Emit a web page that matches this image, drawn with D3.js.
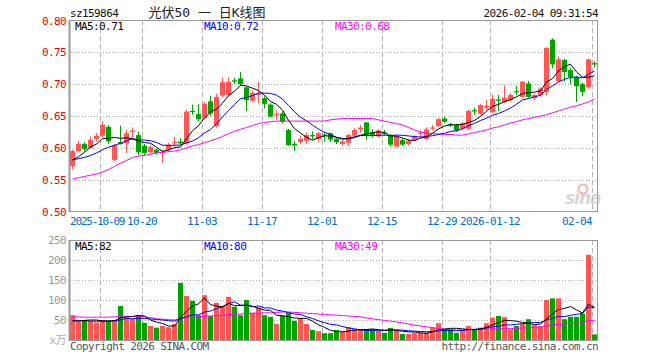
<!DOCTYPE html>
<html><head><meta charset="utf-8">
<script src="https://cdn.jsdelivr.net/npm/d3@7"></script>
<style>
html,body{margin:0;padding:0;background:#fff;}
svg{display:block;}
text{font-family:"DejaVu Sans Mono","Noto Sans CJK SC",monospace;font-size:11px;letter-spacing:-0.6px;}
</style></head>
<body>
<svg id="chart" width="660" height="360"></svg>
<script>
// ---------------- DATA ----------------
const dates = [
 "2025-09-24","2025-09-25","2025-09-26","2025-09-29","2025-09-30","2025-10-09","2025-10-10","2025-10-13","2025-10-14","2025-10-15",
 "2025-10-16","2025-10-17","2025-10-20","2025-10-21","2025-10-22","2025-10-23","2025-10-24","2025-10-27","2025-10-28","2025-10-29",
 "2025-10-30","2025-10-31","2025-11-03","2025-11-04","2025-11-05","2025-11-06","2025-11-07","2025-11-10","2025-11-11","2025-11-12",
 "2025-11-13","2025-11-14","2025-11-17","2025-11-18","2025-11-19","2025-11-20","2025-11-21","2025-11-24","2025-11-25","2025-11-26",
 "2025-11-27","2025-11-28","2025-12-01","2025-12-02","2025-12-03","2025-12-04","2025-12-05","2025-12-08","2025-12-09","2025-12-10",
 "2025-12-11","2025-12-12","2025-12-15","2025-12-16","2025-12-17","2025-12-18","2025-12-19","2025-12-22","2025-12-23","2025-12-24",
 "2025-12-25","2025-12-26","2025-12-29","2025-12-30","2025-12-31","2026-01-05","2026-01-06","2026-01-07","2026-01-08","2026-01-09",
 "2026-01-12","2026-01-13","2026-01-14","2026-01-15","2026-01-16","2026-01-19","2026-01-20","2026-01-21","2026-01-22","2026-01-23",
 "2026-01-26","2026-01-27","2026-01-28","2026-01-29","2026-01-30","2026-02-02","2026-02-03","2026-02-04"];

const open = [
 0.571,0.595,0.606,0.600,0.614,0.619,0.633,0.581,0.609,0.607,
 0.625,0.620,0.603,0.593,0.597,0.592,0.597,0.607,0.610,0.607,
 0.658,0.653,0.647,0.673,0.634,0.682,0.683,0.706,0.709,0.695,
 0.674,0.683,0.678,0.668,0.651,0.654,0.628,0.606,0.609,0.611,
 0.620,0.614,0.621,0.623,0.614,0.606,0.608,0.619,0.629,0.640,
 0.624,0.618,0.624,0.620,0.602,0.612,0.606,0.6125,0.622,0.614,
 0.630,0.634,0.646,0.637,0.636,0.630,0.630,0.659,0.654,0.664,
 0.656,0.676,0.672,0.675,0.689,0.680,0.701,0.678,0.683,0.688,
 0.770,0.705,0.738,0.722,0.711,0.700,0.695,0.733];
const high = [
 0.597,0.611,0.609,0.618,0.623,0.642,0.636,0.606,0.635,0.628,
 0.632,0.6255,0.606,0.604,0.599,0.597,0.608,0.617,0.615,0.660,
 0.668,0.669,0.672,0.682,0.685,0.710,0.711,0.710,0.719,0.696,
 0.690,0.704,0.681,0.670,0.659,0.657,0.630,0.611,0.619,0.624,
 0.626,0.625,0.624,0.624,0.617,0.612,0.622,0.631,0.636,0.640,
 0.629,0.629,0.628,0.622,0.620,0.614,0.614,0.620,0.627,0.632,
 0.636,0.647,0.649,0.639,0.638,0.640,0.660,0.663,0.669,0.675,
 0.684,0.683,0.698,0.686,0.697,0.705,0.705,0.685,0.695,0.758,
 0.772,0.744,0.740,0.726,0.713,0.702,0.740,0.736];
const low = [
 0.566,0.593,0.594,0.599,0.610,0.617,0.606,0.579,0.605,0.592,
 0.615,0.588,0.588,0.591,0.589,0.576,0.594,0.602,0.605,0.605,
 0.652,0.641,0.645,0.650,0.632,0.680,0.681,0.700,0.698,0.658,
 0.672,0.670,0.662,0.648,0.644,0.638,0.603,0.595,0.606,0.606,
 0.613,0.609,0.610,0.609,0.606,0.603,0.603,0.618,0.624,0.6125,
 0.616,0.616,0.619,0.602,0.601,0.603,0.604,0.610,0.617,0.612,
 0.627,0.633,0.639,0.633,0.625,0.628,0.628,0.652,0.652,0.659,
 0.654,0.658,0.670,0.673,0.683,0.679,0.678,0.675,0.681,0.682,
 0.725,0.703,0.704,0.700,0.672,0.681,0.693,0.726];
const close = [
 0.595,0.606,0.598,0.6125,0.619,0.636,0.610,0.604,0.606,0.623,
 0.627,0.593,0.592,0.601,0.592,0.594,0.605,0.609,0.607,0.657,
 0.656,0.645,0.669,0.654,0.680,0.703,0.704,0.704,0.700,0.675,
 0.686,0.685,0.669,0.649,0.653,0.641,0.604,0.604,0.614,0.620,
 0.618,0.623,0.619,0.613,0.609,0.610,0.620,0.628,0.632,0.620,
 0.619,0.627,0.622,0.605,0.618,0.605,0.611,0.618,0.624,0.629,
 0.632,0.645,0.641,0.635,0.627,0.638,0.658,0.657,0.667,0.666,
 0.677,0.674,0.679,0.683,0.687,0.704,0.680,0.683,0.693,0.757,
 0.731,0.739,0.719,0.711,0.697,0.688,0.739,0.731];

// volume (万)
const volume = [
 62,47,50,47,44,50,48,50,85,57,
 53,62,43,35,31,35,32,40,143,110,
 98,62,112,60,93,85,108,83,62,100,
 68,82,62,58,40,61,68,48,54,40,
 25,22,17,17,25,21,32,27,25,27,
 27,23,18,30,23,15,15,18,18,18,
 32,42,27,27,18,25,35,25,31,42,
 56,60,57,27,35,40,52,37,35,100,
 104,104,52,58,58,66,213,14];

// MA30 lines (need history before the window)
const priceMa30 = [
 0.551,0.553,0.555,0.557,0.559,0.562,0.566,0.571,0.576,0.580,
 0.585,0.587,0.588,0.590,0.592,0.593,0.594,0.595,0.597,0.600,
 0.603,0.605,0.608,0.611,0.614,0.618,0.622,0.626,0.629,0.632,
 0.635,0.638,0.640,0.641,0.642,0.642,0.642,0.642,0.642,0.642,
 0.642,0.642,0.642,0.644,0.645,0.646,0.646,0.646,0.646,0.646,
 0.646,0.644,0.642,0.640,0.638,0.636,0.632,0.628,0.625,0.623,
 0.622,0.622,0.621,0.621,0.620,0.620,0.622,0.624,0.626,0.628,
 0.631,0.633,0.636,0.639,0.641,0.644,0.646,0.648,0.650,0.652,
 0.655,0.658,0.661,0.664,0.666,0.669,0.672,0.677];
const volumeMa30 = [
 58,58,57,57,57,57,57,58,59,59,
 59,59,58,56,53,52,51,50,54,56,
 57,58,59,60,61,62,63,64,65,66,
 67,67,68,68,69,70,70,69,68,67,
 66,65,64,63,62,61,60,59,58,55,
 53,51,49,47,45,43,40,37,35,33,
 31,28,27,26,25,25,25,26,27,27,
 28,28,29,29,29,30,31,32,32,35,
 38,39,40,41,42,43,49,49];
// leading MA values (before a full window exists)
const priceMa5Lead  = [0.581,0.586,0.593,0.601];
const priceMa10Lead = [0.581,0.583,0.585,0.588,0.592,0.597,0.601,0.604,0.607];
const volumeMa5Lead  = [48,48,49,50];
const volumeMa10Lead = [48,48,48,47,47,47,47,48,50];

const priceTicks  = [0.50,0.55,0.60,0.65,0.70,0.75,0.80];
const volumeTicks = [50,100,150,200,250];
const dateTicks  = ["2025-10-09","2025-10-20","2025-11-03","2025-11-17","2025-12-01","2025-12-15","2025-12-29","2026-01-12","2026-02-04"];
const dateTickLabels = ["2025-10-09","10-20","11-03","11-17","12-01","12-15","12-29","2026-01-12","02-04"];

const symbol = "sz159864";
const title = "光伏50 一 日K线图";
const stamp = "2026-02-04 09:31:54";

// ---------------- DRAW ----------------
function movingAvg(vals, n, lead){
  return vals.map((v,i)=> i < n-1 ? lead[i] : d3.mean(vals.slice(i-n+1,i+1)));
}
const pMa5 = movingAvg(close,5,priceMa5Lead);
const pMa10 = movingAvg(close,10,priceMa10Lead);
const vMa5 = movingAvg(volume,5,volumeMa5Lead);
const vMa10 = movingAvg(volume,10,volumeMa10Lead);

const RED="#ff5555", GREEN="#00a300", GRID="#b4b4b4", FRAME="#999";
const L=70, R=598;
const svg = d3.select("#chart");
svg.append("rect").attr("width",660).attr("height",360).attr("fill","#fff");

const x = d3.scaleBand().domain(dates).range([L,R]);
const bw = x.bandwidth();
const yP = d3.scaleLinear().domain([0.5,0.8]).range([211.5,20.5]);
const yV = d3.scaleLinear().domain([0,250]).range([340,240]);
const cx = i => x(dates[i]) + 2.5;
const up = i => close[i] >= open[i];

// header
svg.append("text").attr("x",70).attr("y",17).attr("fill","#111").text(symbol);
svg.append("text").attr("x",207).attr("y",17).attr("text-anchor","middle").attr("fill","#222")
  .style("font-size","13px").style("letter-spacing","0px").text(title);
svg.append("text").attr("x",598).attr("y",17).attr("text-anchor","end").attr("fill","#111").text(stamp);

function panel(y, top, bottom, hTicks){
  const g = svg.append("g");
  g.selectAll("line.h").data(hTicks).join("line")
    .attr("x1",L).attr("x2",R)
    .attr("y1",d=>Math.round(y(d))+0.5).attr("y2",d=>Math.round(y(d))+0.5)
    .attr("stroke",GRID).attr("stroke-dasharray","1,2");
  g.selectAll("line.v").data(dateTicks).join("line")
    .attr("x1",d=>x(d)+0.5).attr("x2",d=>x(d)+0.5)
    .attr("y1",top).attr("y2",bottom)
    .attr("stroke",GRID).attr("stroke-dasharray","5,3");
  return g;
}
panel(yP,20,211,[0.55,0.60,0.65,0.70,0.75]);
panel(yV,240,340,[50,100,150,200]);

// candles
const cg = svg.append("g");
cg.selectAll("line.w").data(dates).join("line")
  .attr("x1",(d,i)=>cx(i)).attr("x2",(d,i)=>cx(i))
  .attr("y1",(d,i)=>yP(high[i])).attr("y2",(d,i)=>yP(low[i]))
  .attr("stroke",(d,i)=>up(i)?RED:GREEN).attr("stroke-width",1);
cg.selectAll("rect").data(dates).join("rect")
  .attr("x",d=>x(d)).attr("width",bw-1)
  .attr("y",(d,i)=>yP(Math.max(open[i],close[i])))
  .attr("height",(d,i)=>Math.max(1.2,Math.abs(yP(open[i])-yP(close[i]))))
  .attr("fill",(d,i)=>up(i)?RED:GREEN);

// volume bars
svg.append("g").selectAll("rect").data(volume).join("rect")
  .attr("x",(d,i)=>x(dates[i])).attr("width",bw-1)
  .attr("y",d=>yV(d)).attr("height",d=>340-yV(d))
  .attr("fill",(d,i)=>up(i)?RED:GREEN);

// MA lines
function drawLine(vals, y, color){
  svg.append("path").datum(vals)
    .attr("d", d3.line().x((d,i)=>cx(i)).y(d=>y(d)))
    .attr("fill","none").attr("stroke",color).attr("stroke-width",1);
}
drawLine(priceMa30,yP,"#ff00ff");
drawLine(pMa10,yP,"#0000ff");
drawLine(pMa5,yP,"#000");
drawLine(volumeMa30,yV,"#ff00ff");
drawLine(vMa10,yV,"#0000ff");
drawLine(vMa5,yV,"#000");

// frames
svg.append("rect").attr("x",69.5).attr("y",20.5).attr("width",528).attr("height",191)
  .attr("fill","none").attr("stroke",FRAME);
svg.append("rect").attr("x",69.5).attr("y",240.5).attr("width",528).attr("height",100)
  .attr("fill","none").attr("stroke",FRAME);
svg.append("line").attr("x1",69.5).attr("x2",69.5).attr("y1",20).attr("y2",212).attr("stroke",FRAME).attr("stroke-width",2);
svg.append("line").attr("x1",69.5).attr("x2",69.5).attr("y1",240).attr("y2",341).attr("stroke",FRAME).attr("stroke-width",2);

// axes
const ay = svg.append("g").attr("transform",`translate(${L},0)`)
  .call(d3.axisLeft(yP).tickValues(priceTicks).tickFormat(d3.format(".2f")).tickSize(0).tickPadding(4));
ay.select(".domain").remove();
ay.selectAll("text").attr("fill","#ee0000");
ay.attr("font-family",null).attr("font-size",null);

const av = svg.append("g").attr("transform",`translate(${L},0)`)
  .call(d3.axisLeft(yV).tickValues(volumeTicks).tickFormat(d3.format("d")).tickSize(0).tickPadding(4));
av.select(".domain").remove();
av.selectAll("text").attr("fill","#999");
av.attr("font-family",null).attr("font-size",null);
svg.append("text").attr("x",66).attr("y",344).attr("text-anchor","end").attr("fill","#aaa").text("x万");

// date labels (first one left-aligned on the frame, last one right-aligned on its gridline)
const nT = dateTicks.length - 1;
svg.append("g").selectAll("text").data(dateTicks).join("text")
  .attr("x",(d,i)=> i===0 ? L : x(d))
  .attr("y",225)
  .attr("text-anchor",(d,i)=> i===0 ? "start" : (i===nT ? "end" : "middle"))
  .style("letter-spacing",(d,i)=> i===0 ? "-1.2px" : null)
  .attr("fill","#0070c8")
  .text((d,i)=>dateTickLabels[i]);

// MA legends
const f2 = d3.format(".2f"), f0 = d3.format(".0f");
const n = dates.length-1;
svg.append("text").attr("x",75).attr("y",30).attr("fill","#000").text("MA5:"+f2(pMa5[n]));
svg.append("text").attr("x",204).attr("y",30).attr("fill","#0000ff").text("MA10:"+f2(pMa10[n]));
svg.append("text").attr("x",335).attr("y",30).attr("fill","#ff00ff").text("MA30:"+f2(priceMa30[n]));
svg.append("text").attr("x",75).attr("y",250).attr("fill","#000").text("MA5:"+f0(vMa5[n]));
svg.append("text").attr("x",204).attr("y",250).attr("fill","#0000ff").text("MA10:"+f0(vMa10[n]));
svg.append("text").attr("x",335).attr("y",250).attr("fill","#ff00ff").text("MA30:"+f0(volumeMa30[n]));

// footer
svg.append("text").attr("x",70).attr("y",350).attr("fill","#555").text("Copyright 2026 SINA.COM");
svg.append("text").attr("x",598).attr("y",350).attr("text-anchor","end").attr("fill","#555").text("http://finance.sina.com.cn");

// watermark
const wm = svg.append("g").attr("opacity",0.6);
wm.append("circle").attr("cx",583).attr("cy",189).attr("r",4.5).attr("fill","none").attr("stroke","#f08080").attr("stroke-width",2);
wm.append("text").attr("x",565).attr("y",204).attr("fill","#bbb")
  .style("font-family","DejaVu Sans").style("font-size","17px").style("font-weight","bold")
  .style("font-style","italic").style("letter-spacing","-1px").text("sina");
</script>
</body></html>
